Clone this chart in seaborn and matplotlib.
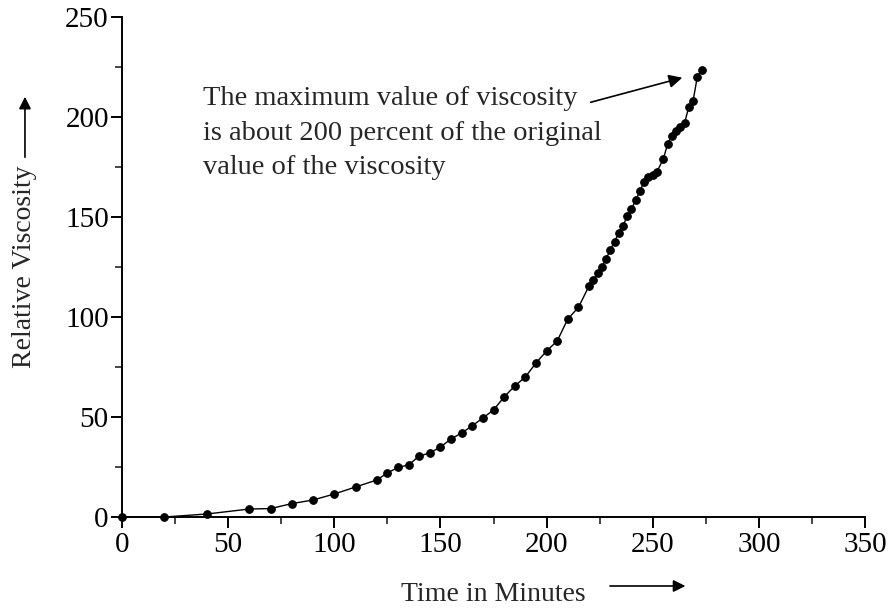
import matplotlib
matplotlib.use("Agg")
import matplotlib.pyplot as plt
import seaborn as sns
import pandas as pd
from matplotlib.ticker import MultipleLocator

# ---- data ----
time_min = [0, 20, 40, 60, 70, 80, 90, 100, 110, 120, 125, 130, 135, 140, 145,
            150, 155, 160, 165, 170, 175, 180, 185, 190, 195, 200, 205, 210,
            215, 220, 222, 224, 226, 228, 230, 232, 234, 236, 238, 240, 242,
            244, 246, 248, 250, 252, 255, 257, 259, 261, 263, 265, 267, 269,
            271, 273]
rel_visc = [0, 0, 1.5, 4, 4.2, 6.7, 8.5, 11.5, 15, 18.5, 22, 24.8, 26, 30.5,
            32, 35, 39, 42, 45.6, 49.5, 53.5, 60, 65.5, 70, 77, 83, 88, 99,
            104.8, 115.5, 118.5, 121.8, 125, 129, 133.5, 137.7, 142, 145.5,
            150.5, 154, 158.5, 163, 167.7, 170, 171, 172.7, 179, 186.5, 190.5,
            193, 195, 197, 205, 208, 220, 223.5]
x_ticks = [0, 50, 100, 150, 200, 250, 300, 350]
y_ticks = [0, 50, 100, 150, 200, 250]
x_label = "Time in Minutes"
y_label = "Relative Viscosity"
note = ("The maximum value of viscosity\n"
        "is about 200 percent of the original\n"
        "value of the viscosity")

df = pd.DataFrame({"t": time_min, "v": rel_visc})

sns.set_style("ticks")
plt.rcParams["font.family"] = ["Liberation Serif", "DejaVu Serif"]
plt.rcParams["axes.linewidth"] = 1.4

fig = plt.figure(figsize=(8.93, 6.09), dpi=100)
ax = fig.add_axes([122 / 893, 92 / 609, 743 / 893, 500 / 609])

sns.lineplot(data=df, x="t", y="v", ax=ax, color="black", linewidth=1.0,
             marker="o", markersize=5.5, markeredgecolor="black",
             markerfacecolor="black", sort=False)
for ln in ax.lines:
    ln.set_clip_on(False)

ax.set_xlim(0, 350)
ax.set_ylim(0, 250)
ax.set_xticks(x_ticks)
ax.set_yticks(y_ticks)
ax.xaxis.set_minor_locator(MultipleLocator(25))
ax.yaxis.set_minor_locator(MultipleLocator(25))
ax.tick_params(which="major", direction="out", length=8, width=1.4,
               labelsize=21, colors="black", pad=3)
ax.tick_params(axis="y", which="major", pad=1.5)
ax.tick_params(which="minor", direction="out", length=5, width=1.2)
sns.despine(ax=ax)
for s in ("left", "bottom"):
    ax.spines[s].set_color("black")
ax.set_xlabel("")
ax.set_ylabel("")

# axis labels with arrows
ax.text(0.4993, -0.155, x_label, transform=ax.transAxes, ha="center",
        va="center", fontsize=20)
ax.annotate("", xy=(0.762, -0.138), xytext=(0.653, -0.138),
            xycoords="axes fraction", textcoords="axes fraction",
            annotation_clip=False,
            arrowprops=dict(arrowstyle="-|>", color="black", lw=1.2,
                            mutation_scale=18))
ax.text(-0.1306, 0.5, y_label, transform=ax.transAxes, ha="center",
        va="center", rotation=90, fontsize=20)
ax.annotate("", xy=(-0.1306, 0.846), xytext=(-0.1306, 0.714),
            xycoords="axes fraction", textcoords="axes fraction",
            annotation_clip=False,
            arrowprops=dict(arrowstyle="-|>", color="black", lw=1.2,
                            mutation_scale=18))

# note with arrow toward the maximum
ax.text(38.2, 215.5, note, ha="left", va="top", fontsize=20.5,
        linespacing=1.5)
ax.annotate("", xy=(265.2, 220), xytext=(219.5, 207),
            arrowprops=dict(arrowstyle="-|>", color="black", lw=1.2,
                            mutation_scale=20))

fig.savefig("out.png", dpi=100)
